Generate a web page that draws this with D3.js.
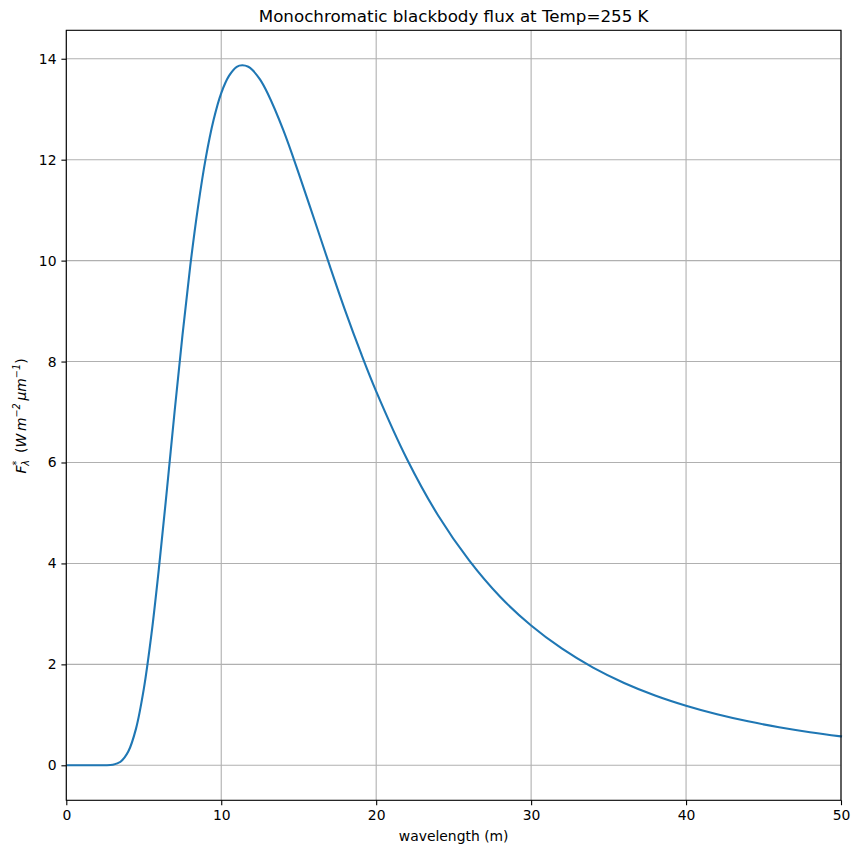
<!DOCTYPE html>
<html><head><meta charset="utf-8">
<script src="https://cdn.jsdelivr.net/npm/d3@7"></script>
<style>body{margin:0;background:#fff}svg{display:block}text{font-family:"DejaVu Sans",sans-serif}</style>
</head><body><svg id="c" width="859" height="853"></svg>
<script>
const wavelength = [0.1,1,2,2.5,3,3.5,4,4.5,5,5.5,6,6.5,7,7.5,8,8.5,9,9.5,10,10.5,11,11.36,11.75,12,12.5,13,14,15,16,17,18,19,20,22,24,26,28,30,32,34,36,38,40,42,44,46,48,50];
const flux = [0,0,0.00002,0.0006,0.0105,0.071,0.273,0.727,1.508,2.608,3.97,5.48,7.04,8.53,9.895,11.06,12.03,12.78,13.32,13.66,13.84,13.87,13.84,13.78,13.59,13.31,12.59,11.73,10.82,9.90,9.01,8.18,7.41,6.06,4.95,4.06,3.34,2.77,2.31,1.935,1.631,1.383,1.18,1.011,0.871,0.754,0.656,0.573];
const xTicks = [0,10,20,30,40,50];
const yTicks = [0,2,4,6,8,10,12,14];
const titleText = "Monochromatic blackbody flux at Temp=255 K";
const xLabel = "wavelength (m)";

const svg = d3.select("#c");
const L=66.3,R=841,T=30.3,B=800.3;
const x = d3.scaleLinear().domain([0,50]).range([L,R]);
const ymax=13.87, pad=ymax*0.05;
const y = d3.scaleLinear().domain([-pad, ymax+pad]).range([B,T]);

// grid
svg.append("g").selectAll("line").data(xTicks).join("line")
  .attr("x1",d=>x(d)).attr("x2",d=>x(d)).attr("y1",T).attr("y2",B)
  .attr("stroke","#b0b0b0").attr("stroke-width",1.1);
svg.append("g").selectAll("line").data(yTicks).join("line")
  .attr("y1",d=>y(d)).attr("y2",d=>y(d)).attr("x1",L).attr("x2",R)
  .attr("stroke","#b0b0b0").attr("stroke-width",1.1);

// line
svg.append("path").datum(wavelength.map((w,i)=>[w,flux[i]]))
  .attr("fill","none").attr("stroke","#1f77b4").attr("stroke-width",2.1)
  .attr("stroke-linejoin","round").attr("stroke-linecap","square")
  .attr("d",d3.line().x(d=>x(d[0])).y(d=>y(Math.max(0,d[1]))).curve(d3.curveCatmullRom.alpha(0.5)));

// axes
const xa = svg.append("g").attr("transform",`translate(0,${B})`)
  .call(d3.axisBottom(x).tickValues(xTicks).tickSize(4.9).tickPadding(4.9).tickFormat(d3.format("d")));
const ya = svg.append("g").attr("transform",`translate(${L},0)`)
  .call(d3.axisLeft(y).tickValues(yTicks).tickSize(4.9).tickPadding(4.9).tickFormat(d3.format("d")));
[xa,ya].forEach(a=>{
  a.select(".domain").remove();
  a.selectAll("line").attr("stroke","#000").attr("stroke-width",1.1);
  a.selectAll("text").attr("font-family","DejaVu Sans").attr("font-size",13.9).attr("fill","#000");
});
// frame
svg.append("rect").attr("x",L).attr("y",T).attr("width",R-L).attr("height",B-T)
  .attr("fill","none").attr("stroke","#000").attr("stroke-width",1.1);

svg.append("text").attr("x",(L+R)/2).attr("y",22).attr("text-anchor","middle")
  .attr("font-size",16.7).text(titleText);
svg.append("text").attr("x",(L+R)/2).attr("y",841).attr("text-anchor","middle")
  .attr("font-size",13.9).text(xLabel);

// y label (mathtext-like)
const yl = svg.append("text").attr("transform","translate(26,416) rotate(-90)")
  .attr("text-anchor","middle").attr("font-size",13.9).attr("font-style","italic");
yl.append("tspan").text("F");
yl.append("tspan").attr("font-size",9.7).attr("dy",-6).text("*");
yl.append("tspan").attr("font-size",9.7).attr("dx",-5).attr("dy",9).text("λ");
yl.append("tspan").attr("dy",-3).attr("font-style","normal").text("\u2002(");
yl.append("tspan").text("W\u2009m");
yl.append("tspan").attr("font-size",9.7).attr("dy",-6).text("−2");
yl.append("tspan").attr("dy",6).text("\u2009μm");
yl.append("tspan").attr("font-size",9.7).attr("dy",-6).text("−1");
yl.append("tspan").attr("dy",6).attr("font-style","normal").text(")");
</script></body></html>
